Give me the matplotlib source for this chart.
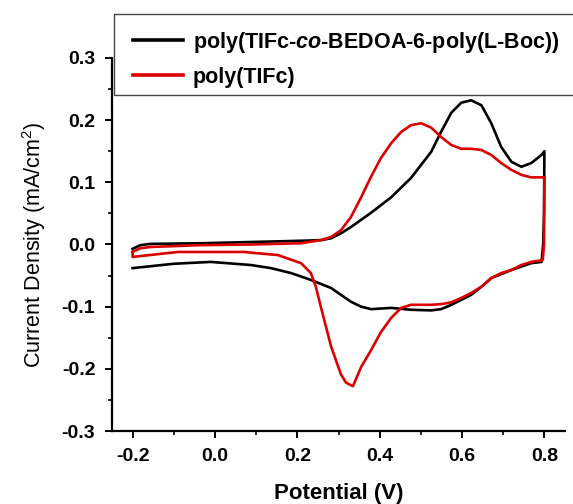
import matplotlib
matplotlib.use("Agg")
import matplotlib.pyplot as plt
from matplotlib.patches import Rectangle

plt.rcParams["font.family"] = ["Liberation Sans", "DejaVu Sans"]
plt.rcParams["mathtext.fontset"] = "custom"
plt.rcParams["mathtext.rm"] = "Liberation Sans"
plt.rcParams["mathtext.it"] = "Liberation Sans:italic:bold"

# poly(TIFc-co-BEDOA-6-poly(L-Boc)) : forward then reverse scan
cop_potential = [-0.200, -0.181, -0.156, -0.035, 0.087, 0.209, 0.257, 0.282, 0.306,
                 0.330, 0.379, 0.428, 0.476, 0.525, 0.549, 0.574, 0.598, 0.622,
                 0.647, 0.671, 0.695, 0.720, 0.744, 0.768, 0.793, 0.800,
                 0.799, 0.797, 0.793, 0.768, 0.720, 0.671, 0.647, 0.622, 0.598,
                 0.574, 0.549, 0.525, 0.476, 0.428, 0.379, 0.355, 0.330, 0.306,
                 0.282, 0.233, 0.185, 0.136, 0.087, -0.010, -0.100, -0.200]
cop_current = [-0.007, -0.001, 0.001, 0.002, 0.004, 0.006, 0.007, 0.010, 0.018,
               0.028, 0.051, 0.076, 0.107, 0.149, 0.181, 0.212, 0.228, 0.232,
               0.224, 0.195, 0.157, 0.133, 0.125, 0.131, 0.144, 0.150,
               0.050, 0.000, -0.028, -0.030, -0.041, -0.054, -0.068, -0.081, -0.089,
               -0.097, -0.104, -0.106, -0.105, -0.102, -0.104, -0.100, -0.092, -0.081,
               -0.070, -0.057, -0.046, -0.038, -0.033, -0.028, -0.031, -0.038]

# poly(TIFc)
tifc_potential = [-0.200, -0.181, -0.156, -0.035, 0.087, 0.209, 0.257, 0.282, 0.306,
                  0.330, 0.355, 0.379, 0.403, 0.428, 0.452, 0.476, 0.501, 0.525,
                  0.549, 0.574, 0.598, 0.622, 0.647, 0.671, 0.695, 0.720, 0.744,
                  0.768, 0.800,
                  0.799, 0.796, 0.768, 0.744, 0.720, 0.695, 0.671, 0.647, 0.622,
                  0.598, 0.574, 0.549, 0.525, 0.476, 0.452, 0.428, 0.403, 0.379,
                  0.355, 0.335, 0.318, 0.306, 0.282, 0.257, 0.245, 0.233, 0.209,
                  0.153, 0.070, -0.090, -0.200, -0.200]
tifc_current = [-0.012, -0.006, -0.004, -0.001, 0.000, 0.002, 0.007, 0.012, 0.023,
                0.044, 0.076, 0.109, 0.139, 0.163, 0.181, 0.192, 0.195, 0.188,
                0.173, 0.160, 0.154, 0.154, 0.152, 0.144, 0.131, 0.120, 0.112,
                0.108, 0.108,
                0.000, -0.025, -0.028, -0.033, -0.041, -0.046, -0.054, -0.068, -0.078,
                -0.086, -0.093, -0.096, -0.097, -0.097, -0.102, -0.118, -0.141, -0.170,
                -0.197, -0.228, -0.222, -0.209, -0.164, -0.100, -0.068, -0.046, -0.030,
                -0.017, -0.012, -0.012, -0.020, -0.012]

labels = ["poly(TIFc-$\\mathit{co}$-BEDOA-6-poly(L-Boc))", "poly(TIFc)"]
colors = ["black", "#dd0000"]

fig = plt.figure(figsize=(5.73, 5.04), dpi=100)
ax = fig.add_axes([112 / 573, 1 - 431 / 504, (565 - 112) / 573, (431 - 58) / 504])

ax.plot(cop_potential, cop_current, color=colors[0], lw=1.9, label=labels[0])
ax.plot(tifc_potential, tifc_current, color=colors[1], lw=1.9, label=labels[1])

ax.set_xlim(-0.25, 0.85)
ax.set_ylim(-0.3, 0.3)
ax.set_xticks([-0.2, 0.0, 0.2, 0.4, 0.6, 0.8])
ax.set_xticks([-0.1, 0.1, 0.3, 0.5, 0.7], minor=True)
ax.set_yticks([-0.3, -0.2, -0.1, 0.0, 0.1, 0.2, 0.3])
ax.set_yticks([-0.25, -0.15, -0.05, 0.05, 0.15, 0.25], minor=True)
ax.xaxis.set_major_formatter(lambda v, p: f"{v:.1f}")
ax.yaxis.set_major_formatter(lambda v, p: f"{v:.1f}")

for s in ["top", "right"]:
    ax.spines[s].set_visible(False)
for s in ["left", "bottom"]:
    ax.spines[s].set_linewidth(1.6)

ax.tick_params(which="major", length=5, width=1.4, labelsize=14)
ax.tick_params(which="minor", length=3, width=1.2)
ax.tick_params(axis="x", pad=7)
ax.tick_params(axis="y", pad=7)
for t in ax.get_xticklabels() + ax.get_yticklabels():
    t.set_fontweight("bold")

ax.set_xlabel("Potential (V)", fontsize=16, fontweight="bold", labelpad=13)
ax.set_ylabel("Current Density (mA/cm$^2$)", fontsize=15.5, labelpad=10)

# legend box runs off the right edge of the figure
fig.patches.append(Rectangle((114 / 573, 1 - 95 / 504), 1.0, 81 / 504,
                             transform=fig.transFigure, fill=False,
                             edgecolor="#444444", lw=1.0))
leg = ax.legend(loc="upper left", bbox_to_anchor=(133 / 573, 1 - 30 / 504),
                bbox_transform=fig.transFigure, frameon=False,
                prop={"weight": "bold", "size": 15.5}, handlelength=2.3,
                handletextpad=0.47, labelspacing=0.55, borderaxespad=0,
                borderpad=0)
for line in leg.get_lines():
    line.set_linewidth(2.6)

fig.savefig("out.png", dpi=100)
